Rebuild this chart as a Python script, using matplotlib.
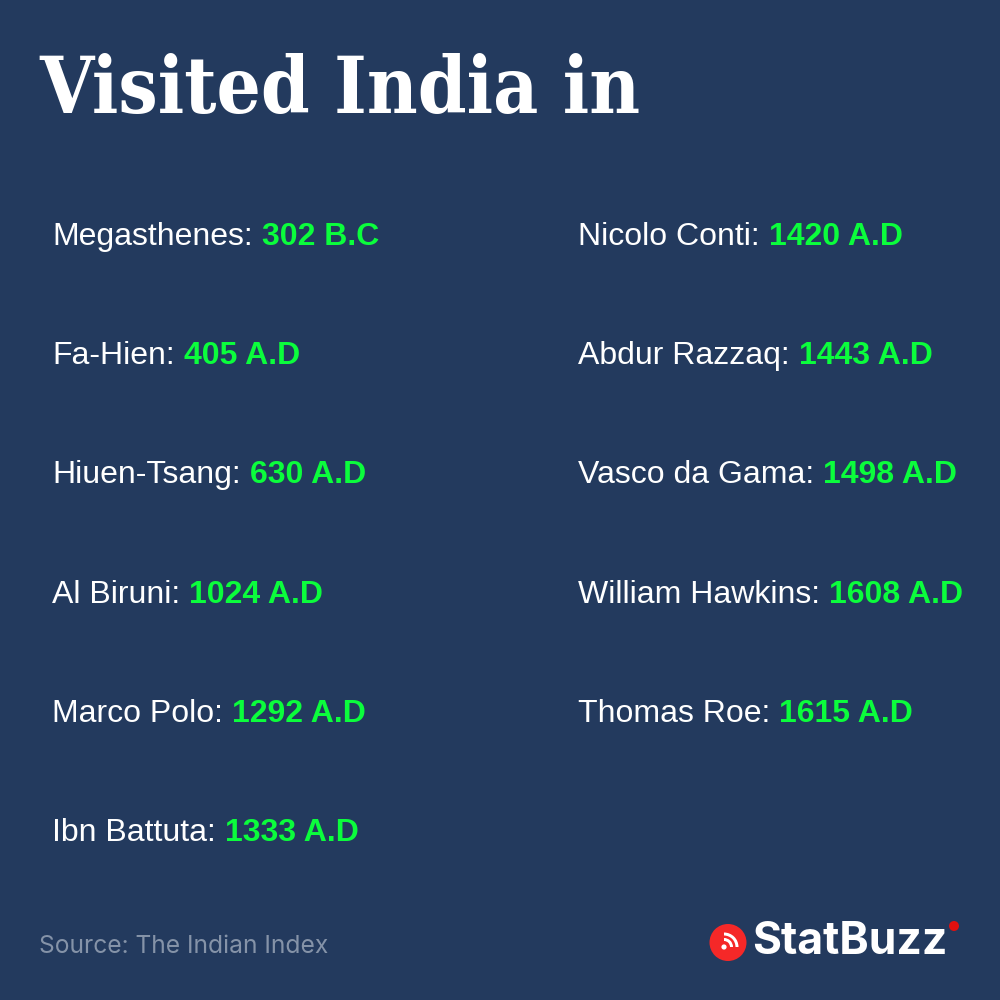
import matplotlib
matplotlib.use("Agg")
import matplotlib.pyplot as plt
from matplotlib.patches import Circle, Wedge

left_names = ["Megasthenes", "Fa-Hien", "Hiuen-Tsang", "Al Biruni", "Marco Polo", "Ibn Battuta"]
left_years = ["302 B.C", "405 A.D", "630 A.D", "1024 A.D", "1292 A.D", "1333 A.D"]
right_names = ["Nicolo Conti", "Abdur Razzaq", "Vasco da Gama", "William Hawkins", "Thomas Roe"]
right_years = ["1420 A.D", "1443 A.D", "1498 A.D", "1608 A.D", "1615 A.D"]

BG = "#233a5e"
GREEN = "#0bfd3c"
RED = "#f52828"
DOT = "#e0100f"

fig = plt.figure(figsize=(10, 10), dpi=100, facecolor=BG)
ax = fig.add_axes([0, 0, 1, 1])
ax.set_xlim(0, 1000)
ax.set_ylim(1000, 0)
ax.axis("off")

ax.text(39, 113, "Visited India in", color="white", fontsize=56, fontweight="bold",
        fontstretch="condensed", family="DejaVu Serif", va="baseline", ha="left")


def draw_column(names, years, x):
    renderer = fig.canvas.get_renderer()
    for i, (name, year) in enumerate(zip(names, years)):
        y = 245 + i * 119.2
        t = ax.text(x, y, name + ":", color="white", fontsize=23, family="Liberation Sans",
                    va="baseline", ha="left")
        # the year starts where the name ends
        box = t.get_window_extent(renderer)
        ax.text(x + box.width + 9, y, year, color=GREEN, fontsize=23, fontweight="bold",
                family="Liberation Sans", va="baseline", ha="left")


draw_column(left_names, left_years, 52)
draw_column(right_names, right_years, 578)

ax.text(39, 953, "Source: The Indian Index", color="#8593a8", fontsize=17.7, family="Inter",
        va="baseline", ha="left")

# StatBuzz logo
ax.add_patch(Circle((728, 942.5), 18.5, color=RED, lw=0))
ax.add_patch(Wedge((724, 947), 14.5, -90, 0, width=3, color="white", lw=0))
ax.add_patch(Wedge((724, 947), 9, -90, 0, width=3, color="white", lw=0))
ax.add_patch(Circle((724, 947), 2.6, color="white", lw=0))
ax.text(752, 954, "StatBuzz", color="white", fontsize=32, fontweight="bold", family="Inter",
        va="baseline", ha="left")
ax.add_patch(Circle((954, 926), 5, color=DOT, lw=0))

fig.savefig("out.png", dpi=100, facecolor=BG)
